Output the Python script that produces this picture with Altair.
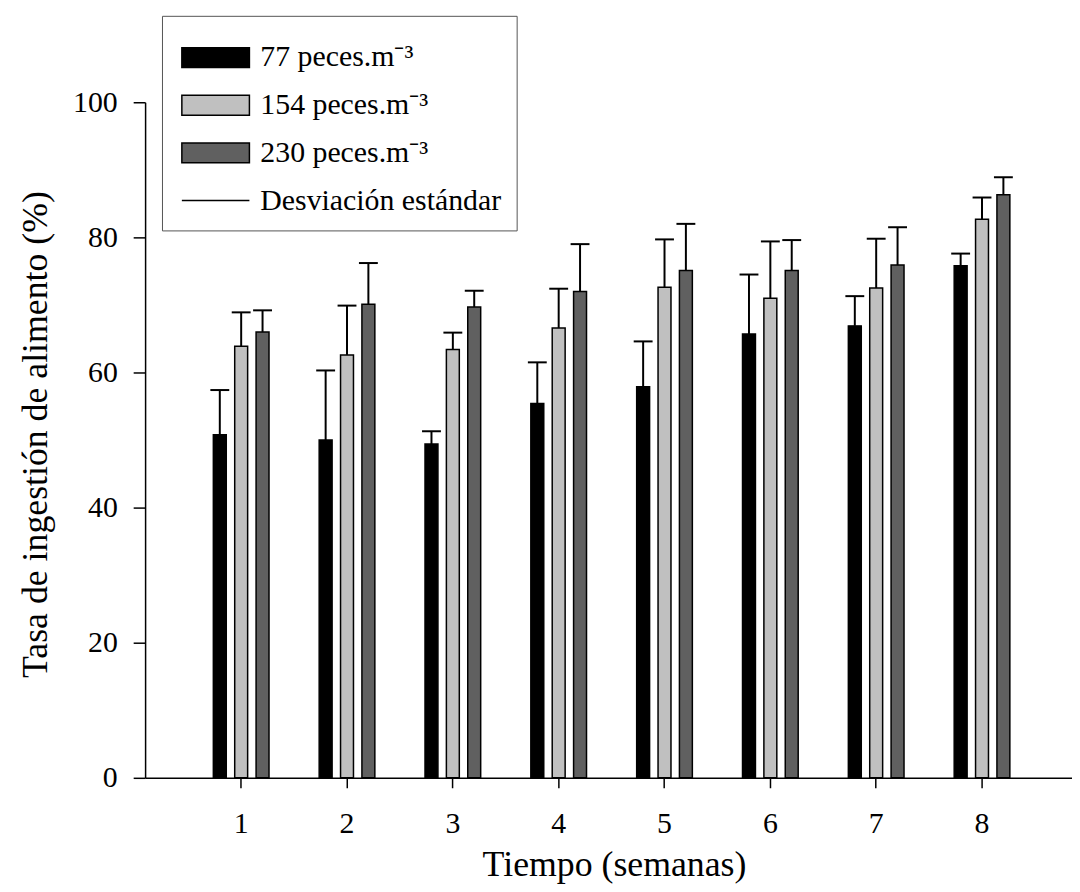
import altair as alt
import pandas as pd

weeks = ["1", "2", "3", "4", "5", "6", "7", "8"]
series = ["77 peces.m⁻³", "154 peces.m⁻³", "230 peces.m⁻³"]
sd_label = "Desviación estándar"

mean_77 = [50.8, 50.0, 49.4, 55.4, 57.9, 65.7, 66.9, 75.8]
sd_77 = [6.6, 10.3, 1.9, 6.1, 6.7, 8.8, 4.4, 1.8]
mean_154 = [63.9, 62.6, 63.4, 66.6, 72.6, 71.0, 72.5, 82.7]
sd_154 = [5.0, 7.3, 2.5, 5.8, 7.1, 8.4, 7.3, 3.2]
mean_230 = [66.0, 70.1, 69.7, 72.0, 75.1, 75.1, 75.9, 86.3]
sd_230 = [3.2, 6.1, 2.4, 7.0, 6.9, 4.5, 5.6, 2.6]

means = [mean_77, mean_154, mean_230]
sds = [sd_77, sd_154, sd_230]

rows = []
for i, w in enumerate(weeks):
    for s, m, d in zip(series, means, sds):
        rows.append({"semana": w, "serie": s, "media": m[i], "sup": m[i] + d[i]})
df = pd.DataFrame(rows)

legend_entries = series + [sd_label]
df_leg = pd.DataFrame({"serie": legend_entries})

RECT = "M-1,-1H5.8V1H-1Z"
LINE = "M-1,0H5.8"
FONT = "Liberation Serif"

x_enc = alt.X(
    "semana:O",
    sort=weeks,
    scale=alt.Scale(paddingInner=0.394, paddingOuter=0.576, align=0.525),
    axis=alt.Axis(
        title="Tiempo (semanas)",
        labelAngle=0,
        tickSize=10,
        labelPadding=21,
        titleBaseline="alphabetic",
        titleX=472,
        titleY=98,
    ),
)
xoff_enc = alt.XOffset(
    "serie:N",
    sort=series,
    scale=alt.Scale(domain=series, paddingInner=0.395, paddingOuter=0.198),
)
y_scale = alt.Scale(domain=[0, 100], nice=False, zero=True)
y_axis = alt.Axis(
    title="Tasa de ingestión de alimento (%)",
    values=[0, 20, 40, 60, 80, 100],
    tickSize=12,
    labelPadding=16,
    grid=False,
    titleBaseline="alphabetic",
    titleX=-99,
    titleY=334,
)

legend = alt.Legend(
    orient="none",
    legendX=17,
    legendY=-87,
    title=" ",
    titleFontSize=6,
    titlePadding=6,
    fillColor="white",
    strokeColor="#555555",
    padding=15,
    symbolSize=400,
    symbolStrokeColor="black",
    symbolStrokeWidth=1.5,
    symbolOpacity=1,
    labelFont=FONT,
    labelFontSize=30,
    labelColor="black",
    labelOffset=54,
    rowPadding=18,
    labelLimit=400,
)

fill_enc = alt.Fill(
    "serie:N",
    scale=alt.Scale(
        domain=legend_entries,
        range=["#000000", "#c0c0c0", "#606060", "#ffffff"],
    ),
    legend=legend,
)

bars = alt.Chart(df).mark_bar(stroke="black", strokeWidth=1.5).encode(
    x=x_enc,
    xOffset=xoff_enc,
    y=alt.Y("media:Q", scale=y_scale, axis=y_axis),
    fill=fill_enc,
)

rules = alt.Chart(df).mark_rule(color="black", strokeWidth=2).encode(
    x=x_enc,
    xOffset=xoff_enc,
    y=alt.Y("media:Q", scale=y_scale),
    y2="sup:Q",
)

caps = alt.Chart(df).mark_tick(color="black", thickness=2, size=19, orient="horizontal", opacity=1).encode(
    x=x_enc,
    xOffset=xoff_enc,
    y=alt.Y("sup:Q", scale=y_scale),
)

legend_pts = alt.Chart(df_leg).mark_point(filled=True, opacity=0, strokeWidth=1.5).encode(
    fill=fill_enc,
    stroke=alt.Stroke(
        "serie:N",
        scale=alt.Scale(domain=legend_entries, range=["#000000", "#000000", "#000000", "#000000"]),
        legend=legend,
    ),
    shape=alt.Shape(
        "serie:N",
        scale=alt.Scale(domain=legend_entries, range=[RECT, RECT, RECT, LINE]),
        legend=legend,
    ),
)

chart = (
    alt.layer(bars, rules, caps, legend_pts)
    .properties(
        width=933,
        height=680,
        autosize=alt.AutoSizeParams(type="none"),
        padding={"left": 138, "top": 92, "right": 0, "bottom": 104},
    )
    .configure_view(stroke=None)
    .configure_axis(
        labelFont=FONT,
        titleFont=FONT,
        labelFontSize=30,
        titleFontSize=36,
        titleFontWeight="normal",
        labelColor="black",
        titleColor="black",
        domainColor="black",
        tickColor="black",
        domainWidth=1.5,
        tickWidth=1.5,
    )
)

chart.save("out.html", embed_options={"renderer": "svg", "actions": False})
